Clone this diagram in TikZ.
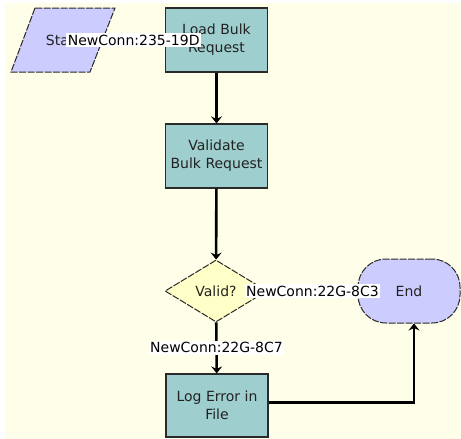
\documentclass[tikz,border=0pt]{standalone}
\usepackage{fontspec}
\setmainfont{DejaVu Sans}
\usetikzlibrary{shapes.geometric,shapes.misc,arrows.meta}
\definecolor{bgc}{HTML}{FFFEE8}
\definecolor{tealfill}{HTML}{9ECFCE}
\definecolor{lav}{HTML}{CCCCFF}
\definecolor{diafill}{HTML}{FFFFC8}
\definecolor{edge}{HTML}{2A2A2A}
\definecolor{txt}{HTML}{222222}
\tikzset{
  task/.style={draw=edge, line width=1.2pt, fill=tealfill, minimum width=102pt, minimum height=64pt,
    align=center, inner sep=1pt, text=txt, font=\fontsize{14}{18}\selectfont},
  term/.style={draw=edge, line width=1pt, dash pattern=on 7pt off 1.5pt, fill=lav},
  conn/.style={line width=2.6pt, -{Stealth[length=7pt,width=11pt,inset=2.5pt]}},
  lbl/.style={fill=white, inner sep=1.5pt, text=black, font=\fontsize{14}{16}\selectfont},
}
\begin{document}
\begin{tikzpicture}[x=1pt,y=-1pt]
\useasboundingbox (0,0) rectangle (461,439);
\fill[bgc] (5,3) rectangle (461,439);
% Start parallelogram
\draw[term] (35,8) -- (115,8) -- (90,72) -- (11,72) -- cycle;
\node[text=txt, font=\fontsize{14}{18}\selectfont] (start) at (63,40) {Start};
\coordinate (startR) at (102.5,40);
% tasks
\node[task] (load) at (216.5,40) {Load Bulk\\Request};
\node[task] (validate) at (216.5,156) {Validate\\Bulk Request};
\node[draw=edge, line width=1pt, dash pattern=on 7pt off 1.5pt, fill=diafill, diamond, minimum width=102pt, minimum height=62pt,
  inner sep=0pt, text=txt, font=\fontsize{14}{18}\selectfont] (valid) at (216,291) {Valid?};
\node[task, minimum height=63pt] (log) at (217,405.5) {Log Error in\\File};
\node[term, rounded corners=28pt, minimum width=102pt, minimum height=64pt, inner sep=0pt,
  text=txt, font=\fontsize{14}{18}\selectfont] (end) at (409,291) {End};
% connectors
\draw[conn] (startR) -- (load.west) node[lbl, midway] {NewConn:235-19D};
\draw[conn] (load) -- (validate);
\draw[conn] (validate) -- (valid);
\draw[conn] (valid.east) -- (end.west) node[lbl, midway] {NewConn:22G-8C3};
\draw[conn] (valid) -- (log) node[lbl, midway] {NewConn:22G-8C7};
\draw[conn] ([yshift=3pt]log.east) -| ([xshift=5pt]end.south);
\end{tikzpicture}
\end{document}
